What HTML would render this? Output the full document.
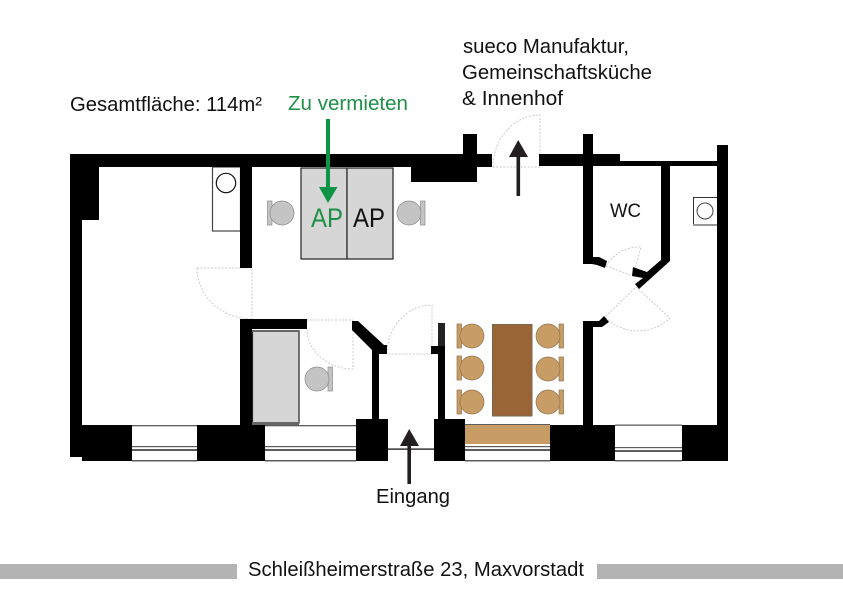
<!DOCTYPE html>
<html><head><meta charset="utf-8"><style>
html,body{margin:0;padding:0;background:#fff}
svg{display:block}
text{font-family:"Liberation Sans",sans-serif;fill:#111}
</style></head><body>
<svg width="843" height="596" viewBox="0 0 843 596" xmlns="http://www.w3.org/2000/svg">
<rect width="843" height="596" fill="#fff"/>

<!-- door swings -->
<g fill="none" stroke="#c8c8c8" stroke-width=".9" stroke-dasharray="2 1.5">
<path d="M493 167A47 52 0 0 1 540 115V167H493"/>
<path d="M197 268H252V319M197 268A55 51 0 0 0 252 319"/>
<path d="M307 320H353V369A46 40 0 0 1 307 329"/>
<path d="M387 354A45 49 0 0 1 432 305V354H387"/>
<path d="M606 266L633 276L641 247A38 38 0 0 0 606 266"/>
<path d="M636 287L670 318A46 46 0 0 1 605 317L636 287"/>
</g>

<!-- furniture -->
<g stroke="#222" stroke-width="1.2" fill="#d6d6d6">
<rect x="301" y="168" width="46" height="91"/>
<rect x="347" y="168" width="46" height="91"/>
<rect x="252.5" y="331" width="46.5" height="92"/>
</g>
<rect x="252" y="330" width="47" height="2" fill="#666"/>
<rect x="252" y="422" width="47" height="3" fill="#666"/>
<rect x="212.5" y="167" width="28" height="64" fill="#fff" stroke="#444" stroke-width="1.2"/>
<circle cx="226" cy="183" r="9.7" fill="#fff" stroke="#111" stroke-width="1.2"/>
<rect x="693.5" y="197.5" width="24" height="27" fill="#fff" stroke="#333" stroke-width="1"/>
<rect x="693" y="224" width="24" height="2" fill="#999"/>
<circle cx="705" cy="211" r="8" fill="#fff" stroke="#444" stroke-width="1"/>

<g fill="#c4c4c4" stroke="#8a8a8a" stroke-width=".7">
<rect x="267.5" y="201" width="4.5" height="24"/><circle cx="282" cy="213" r="12"/>
<rect x="420.5" y="201" width="4.5" height="24"/><circle cx="409" cy="213" r="12"/>
<rect x="328" y="367" width="4.5" height="24"/><circle cx="317" cy="379" r="12"/>
</g>

<g fill="#c89c65" stroke="#8f7350" stroke-width=".7">
<rect x="457" y="324" width="4.5" height="24"/><circle cx="472" cy="336" r="12"/>
<rect x="457" y="356" width="4.5" height="24"/><circle cx="472" cy="368" r="12"/>
<rect x="457" y="390" width="4.5" height="24"/><circle cx="472" cy="402" r="12"/>
<rect x="559" y="324" width="4.5" height="24"/><circle cx="548" cy="336" r="12"/>
<rect x="559" y="357" width="4.5" height="24"/><circle cx="548" cy="369" r="12"/>
<rect x="559" y="390" width="4.5" height="24"/><circle cx="548" cy="402" r="12"/>
</g>
<rect x="492.5" y="324.5" width="39.5" height="91.5" fill="#9a6536" stroke="#7a6650" stroke-width="1"/>

<!-- windows -->
<g fill="#5c5c5c">
<rect x="132" y="425" width="65" height="1.3"/><rect x="132" y="446" width="65" height="1.2"/><rect x="132" y="449" width="65" height="2"/><rect x="132" y="460" width="65" height="1.5"/>
<rect x="265" y="425" width="91" height="1.3"/><rect x="265" y="446" width="91" height="1.2"/><rect x="265" y="449" width="91" height="2"/><rect x="265" y="460" width="91" height="1.5"/>
<rect x="465" y="424" width="85" height="1.3"/><rect x="465" y="446" width="85" height="1.2"/><rect x="465" y="449" width="85" height="2"/><rect x="465" y="460" width="85" height="1.5"/>
<rect x="615" y="424.5" width="67" height="1.3"/><rect x="615" y="447" width="67" height="1.2"/><rect x="615" y="450" width="67" height="2"/><rect x="615" y="460" width="67" height="1.5"/>
</g>
<rect x="465" y="425" width="85" height="19" fill="#c89c65"/>
<rect x="388" y="448.5" width="46" height="1.2" fill="#000"/>

<!-- walls -->
<g fill="#000">
<rect x="70" y="154" width="422" height="13"/>
<rect x="70" y="154" width="12" height="303"/>
<rect x="70" y="154" width="29" height="66"/>
<rect x="240" y="160" width="12" height="108"/>
<rect x="463" y="134" width="14" height="22"/>
<rect x="411" y="160" width="66" height="22"/>
<rect x="539" y="154" width="81" height="12"/>
<rect x="583" y="134" width="10" height="130"/>
<rect x="620" y="161" width="98" height="5"/>
<rect x="661" y="161" width="9" height="100"/>
<polygon points="633,267 647,272 661,260 670,261 639,289 635,284 643,278 632,276"/>
<polygon points="592,257 599,257 607,261 605,268 597,265 592,264"/>
<rect x="717" y="145" width="11" height="316"/>
<rect x="583" y="321" width="10" height="105"/>
<polygon points="583,321 599,321 604,316 609,322 602,327 583,327"/>
<rect x="82" y="425" width="50" height="36"/>
<rect x="197" y="425" width="68" height="36"/>
<rect x="240" y="319" width="12" height="110"/>
<rect x="240" y="319" width="67" height="10"/>
<rect x="356" y="419" width="32" height="42"/>
<polygon points="352,321 358,321 384,345 387,345 387,354 379,354 379,421 372,421 372,350 352,330"/>
<rect x="438" y="346" width="7" height="75"/>
<rect x="431" y="346" width="8" height="8"/>
<rect x="438" y="323" width="7" height="23" fill="#222"/>
<rect x="434" y="419" width="31" height="42"/>
<rect x="550" y="425" width="65" height="36"/>
<rect x="682" y="425" width="46" height="36"/>
</g>

<!-- arrows -->
<g fill="#231f20">
<rect x="516.5" y="156" width="3.6" height="40"/><polygon points="518.2,140 528,157 509,157"/>
<rect x="407.4" y="445" width="3.6" height="39"/><polygon points="409.2,429 419,446 400,446"/>
</g>
<g fill="#0f9345">
<rect x="326" y="119" width="4" height="70"/><polygon points="319,187 337.5,187 328,203"/>
</g>

<!-- labels -->
<text x="70" y="111" font-size="20" textLength="192" lengthAdjust="spacingAndGlyphs">Gesamtfläche: 114m²</text>
<text x="288" y="110" font-size="20" textLength="120" lengthAdjust="spacingAndGlyphs" style="fill:#1d8f47">Zu vermieten</text>
<text x="463" y="53" font-size="20" textLength="166" lengthAdjust="spacingAndGlyphs">sueco Manufaktur,</text>
<text x="462" y="79" font-size="20" textLength="190" lengthAdjust="spacingAndGlyphs">Gemeinschaftsküche</text>
<text x="462" y="105" font-size="20" textLength="101" lengthAdjust="spacingAndGlyphs">&amp; Innenhof</text>
<text x="311" y="227" font-size="27" textLength="32" lengthAdjust="spacingAndGlyphs" style="fill:#1d8f47">AP</text>
<text x="353" y="227" font-size="27" textLength="32" lengthAdjust="spacingAndGlyphs">AP</text>
<text x="610" y="217" font-size="19" textLength="31" lengthAdjust="spacingAndGlyphs">WC</text>
<text x="376" y="503" font-size="20" textLength="74" lengthAdjust="spacingAndGlyphs">Eingang</text>
<text x="248" y="576" font-size="20" textLength="336" lengthAdjust="spacingAndGlyphs">Schleißheimerstraße 23, Maxvorstadt</text>

<rect x="0" y="564" width="237" height="15" fill="#b3b3b3"/>
<rect x="597" y="564" width="246" height="15" fill="#b3b3b3"/>
</svg>
</body></html>
